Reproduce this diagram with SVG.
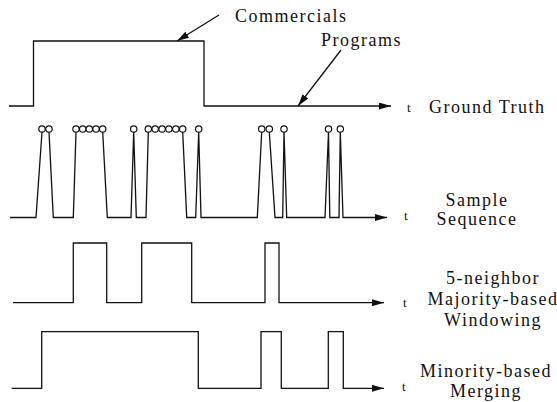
<svg xmlns="http://www.w3.org/2000/svg" width="557" height="402" viewBox="0 0 557 402">
<style>
.w{fill:none;stroke:#111;stroke-width:1.3;stroke-linejoin:miter}
.c{fill:#fff;stroke:#111;stroke-width:1.2}
.lbl{font-family:"Liberation Serif","Times New Roman",serif;font-size:18px;letter-spacing:1.5px;fill:#111}
.t{font-family:"Liberation Serif","Times New Roman",serif;font-size:13px;fill:#111}
</style>
<defs>
<marker id="ah" markerWidth="12" markerHeight="7" refX="12" refY="3.5" orient="auto" markerUnits="userSpaceOnUse">
<path d="M0,0 L12,3.5 L0,7 Z" fill="#111"/>
</marker>
</defs>
<g id="connectors">
<line class="w" x1="219" y1="15" x2="177" y2="41" marker-end="url(#ah)"/>
<line class="w" x1="341" y1="50" x2="298" y2="106" marker-end="url(#ah)"/>
</g>
<g id="ground-truth">
<path class="w" d="M9,106 H33.5 V41 H204 V106 H391" marker-end="url(#ah)"/>
<text class="t" x="407" y="112">t</text>
<text class="lbl" x="429" y="113">Ground Truth</text>
</g>
<g id="commercials-label">
<text class="lbl" x="235" y="22">Commercials</text>
</g>
<g id="programs-label">
<text class="lbl" x="321" y="46">Programs</text>
</g>
<g id="sample-sequence">
<path class="w" d="M10,217.5 H36 L42,132 M49,132 L53.3,217.5 H73.3 L76,132 M102.7,132 L107.3,217.5 H131 L133.7,132 L136.3,217.5 H146 L148.3,132 M182.7,132 L186.7,217.5 H195.7 L198.7,132 L201,217.5 H257.3 L261.7,132 M269.3,132 L275,217.5 H282.7 L284,132 L286.7,217.5 H325 L328.5,132 L329.8,217.5 H339 L340.3,132 L343,217.5 H387" marker-end="url(#ah)"/>
<circle class="c" cx="42" cy="129" r="3.2"/>
<circle class="c" cx="49" cy="129" r="3.2"/>
<circle class="c" cx="76" cy="129" r="3.2"/>
<circle class="c" cx="82.7" cy="129" r="3.2"/>
<circle class="c" cx="89.3" cy="129" r="3.2"/>
<circle class="c" cx="96" cy="129" r="3.2"/>
<circle class="c" cx="102.7" cy="129" r="3.2"/>
<circle class="c" cx="133.7" cy="129" r="3.2"/>
<circle class="c" cx="148.3" cy="129" r="3.2"/>
<circle class="c" cx="155.2" cy="129" r="3.2"/>
<circle class="c" cx="162.1" cy="129" r="3.2"/>
<circle class="c" cx="168.9" cy="129" r="3.2"/>
<circle class="c" cx="175.8" cy="129" r="3.2"/>
<circle class="c" cx="182.7" cy="129" r="3.2"/>
<circle class="c" cx="198.7" cy="129" r="3.2"/>
<circle class="c" cx="261.7" cy="129" r="3.2"/>
<circle class="c" cx="269.3" cy="129" r="3.2"/>
<circle class="c" cx="284" cy="129" r="3.2"/>
<circle class="c" cx="328.5" cy="129" r="3.2"/>
<circle class="c" cx="340.3" cy="129" r="3.2"/>
<text class="t" x="404" y="220">t</text>
<text class="lbl" x="477" y="206" text-anchor="middle">Sample</text>
<text class="lbl" x="477" y="225" text-anchor="middle">Sequence</text>
</g>
<g id="windowing">
<path class="w" d="M13,302.7 H73.3 V243 H106.7 V302.7 H141.7 V243 H191.7 V302.7 H265 V243 H279 V302.7 H384" marker-end="url(#ah)"/>
<text class="t" x="403" y="307">t</text>
<text class="lbl" x="493" y="284" text-anchor="middle">5-neighbor</text>
<text class="lbl" x="493" y="305" text-anchor="middle">Majority-based</text>
<text class="lbl" x="493" y="326" text-anchor="middle">Windowing</text>
</g>
<g id="merging">
<path class="w" d="M11.7,388.3 H41.7 V331.7 H198.3 V388.3 H261 V331.7 H281.3 V388.3 H328.3 V331.7 H343.3 V388.3 H384" marker-end="url(#ah)"/>
<text class="t" x="402" y="391">t</text>
<text class="lbl" x="486" y="377" text-anchor="middle">Minority-based</text>
<text class="lbl" x="486" y="397" text-anchor="middle">Merging</text>
</g>
</svg>
